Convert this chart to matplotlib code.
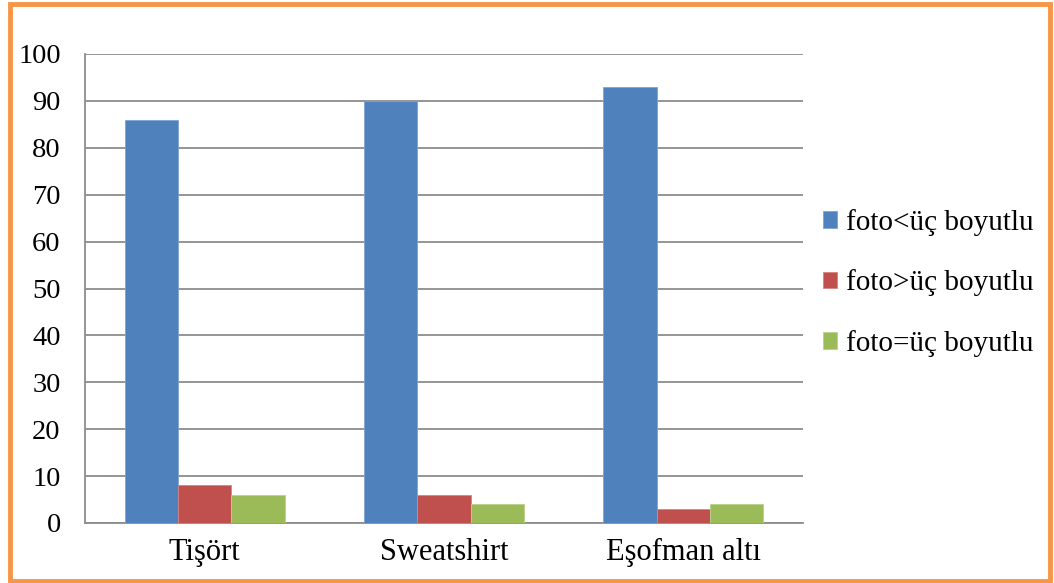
import matplotlib
matplotlib.use("Agg")
import matplotlib.pyplot as plt
from matplotlib.patches import Rectangle
import numpy as np

categories = ["Tişört", "Sweatshirt", "Eşofman altı"]
series_names = ["foto<üç boyutlu", "foto>üç boyutlu", "foto=üç boyutlu"]
less_values = [86, 90, 93]
greater_values = [8, 6, 3]
equal_values = [6, 4, 4]
y_ticks = [0, 10, 20, 30, 40, 50, 60, 70, 80, 90, 100]

colors = ["#4F81BD", "#C0504D", "#9BBB59"]
edges = ["#7FA3D2", "#D48583", "#B9D28A"]

plt.rcParams["font.family"] = ["Liberation Serif", "DejaVu Serif"]

fig = plt.figure(figsize=(10.54, 5.83), dpi=100)
W, H = 1054, 583
ax = fig.add_axes([85 / W, 1 - 523 / H, (803 - 85) / W, (523 - 54) / H])

x = np.arange(len(categories))
bw = 0.223
for i, vals in enumerate([less_values, greater_values, equal_values]):
    ax.bar(x + (i - 1) * bw, vals, width=bw, color=colors[i],
           edgecolor=edges[i], linewidth=0.6, label=series_names[i], zorder=3)

ax.set_xlim(-0.5, len(categories) - 0.5)
ax.set_ylim(0, 100)
ax.set_yticks(y_ticks)
ax.set_xticks(x)
ax.set_xticklabels(categories)
ax.yaxis.grid(True, color="#8C8C8C", linewidth=1.3, zorder=0)
ax.tick_params(axis="both", length=0)
ax.tick_params(axis="y", pad=17.5, labelsize=20.5)
ax.tick_params(axis="x", pad=11, labelsize=22)
for s in ["top", "right"]:
    ax.spines[s].set_visible(False)
for s in ["left", "bottom"]:
    ax.spines[s].set_color("#8C8C8C")
    ax.spines[s].set_linewidth(1.3)

ax.legend(loc="center left", bbox_to_anchor=(811 / W, 1 - 283 / H),
          bbox_transform=fig.transFigure, frameon=False, fontsize=21,
          handlelength=0.5, handleheight=0.5, handletextpad=0.3,
          labelspacing=1.15, borderaxespad=0)

# orange frame around the whole chart
fig.patches.append(Rectangle((10 / W, 2 / H), (1050 - 10) / W, (579 - 2) / H,
                             transform=fig.transFigure, fill=False,
                             edgecolor="#F79646", linewidth=3.5))

fig.savefig("out.png", dpi=100)
